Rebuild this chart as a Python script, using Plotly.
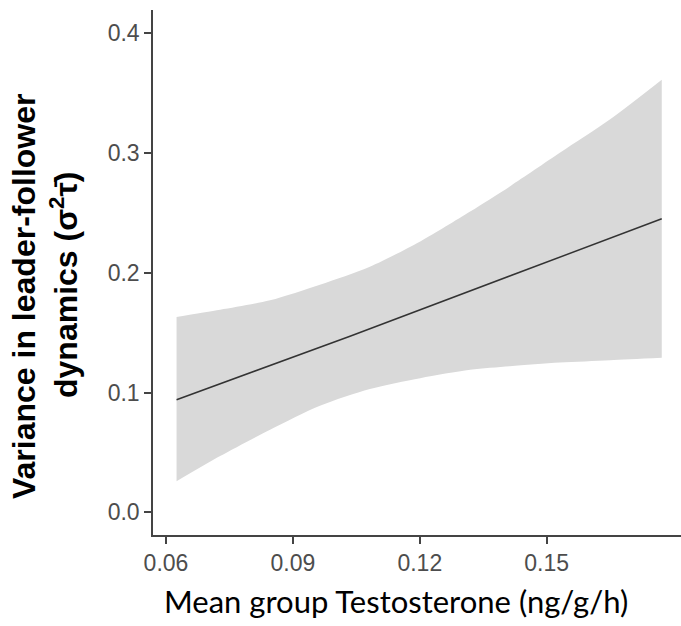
import plotly.graph_objects as go

# Data
band_x = [0.0625, 0.0728, 0.0846, 0.0964, 0.1082, 0.1201, 0.1319, 0.1413, 0.1531, 0.1650, 0.1772]
band_upper = [0.163, 0.169, 0.177, 0.190, 0.205, 0.226, 0.251, 0.272, 0.300, 0.328, 0.361]
band_lower = [0.026, 0.047, 0.069, 0.089, 0.103, 0.112, 0.119, 0.122, 0.125, 0.127, 0.129]
fit_x = [0.0625, 0.1035, 0.1772]
fit_y = [0.094, 0.147, 0.245]

x_ticks = [0.06, 0.09, 0.12, 0.15]
x_ticklabels = ["0.06", "0.09", "0.12", "0.15"]
y_ticks = [0.0, 0.1, 0.2, 0.3, 0.4]
y_ticklabels = ["0.0", "0.1", "0.2", "0.3", "0.4"]

W, H = 681, 626
ML, MR, MT, MB = 153, 0, 10, 91
pw = W - ML - MR
ph = H - MT - MB


def px_x(px):
    return (px - ML) / pw


def px_y(py):
    return (H - MB - py) / ph


fig = go.Figure()
fig.add_trace(go.Scatter(x=band_x, y=band_lower, mode="lines",
                         line=dict(width=0, color="rgba(0,0,0,0)", shape="spline", smoothing=0.8),
                         showlegend=False, hoverinfo="skip"))
fig.add_trace(go.Scatter(x=band_x, y=band_upper, mode="lines",
                         line=dict(width=0, color="rgba(0,0,0,0)", shape="spline", smoothing=0.8),
                         fill="tonexty", fillcolor="#d9d9d9",
                         showlegend=False, hoverinfo="skip"))
fig.add_trace(go.Scatter(x=fit_x, y=fit_y, mode="lines",
                         line=dict(width=1.5, color="#333333"),
                         showlegend=False))

axis_common = dict(showgrid=False, zeroline=False, showline=True,
                   linecolor="#444444", linewidth=1.5,
                   ticks="outside", ticklen=7, tickwidth=1.5, tickcolor="#444444",
                   tickfont=dict(family="Liberation Sans, Arial, sans-serif", size=23, color="#4d4d4d"))

ytitle_font = dict(family="Liberation Sans, Arial, sans-serif", size=32, color="black")

fig.update_layout(
    width=W, height=H,
    margin=dict(l=ML, r=MR, t=MT, b=MB),
    paper_bgcolor="white", plot_bgcolor="white",
    xaxis=dict(range=[0.05693, 0.18175], tickvals=x_ticks, ticktext=x_ticklabels, **axis_common),
    yaxis=dict(range=[-0.0189, 0.4192], tickvals=y_ticks, ticktext=y_ticklabels, **axis_common),
    annotations=[
        dict(text="Mean group Testosterone (ng/g/h)", x=px_x(396), y=px_y(601),
             xref="paper", yref="paper", xanchor="center", yanchor="middle", showarrow=False,
             font=dict(family="Lato, sans-serif", size=31, color="black")),
        dict(text="<b>Variance in leader-follower</b>", textangle=-90,
             x=px_x(24), y=px_y(297), xref="paper", yref="paper",
             xanchor="center", yanchor="middle", showarrow=False, font=ytitle_font),
        dict(text="<b>dynamics (σ<sup>2</sup>τ̄)</b>", textangle=-90,
             x=px_x(64), y=px_y(285), xref="paper", yref="paper",
             xanchor="center", yanchor="middle", showarrow=False, font=ytitle_font),
    ],
)

fig.write_html("out.html", config={"displayModeBar": False},
               post_script="document.body.style.margin='0';")
